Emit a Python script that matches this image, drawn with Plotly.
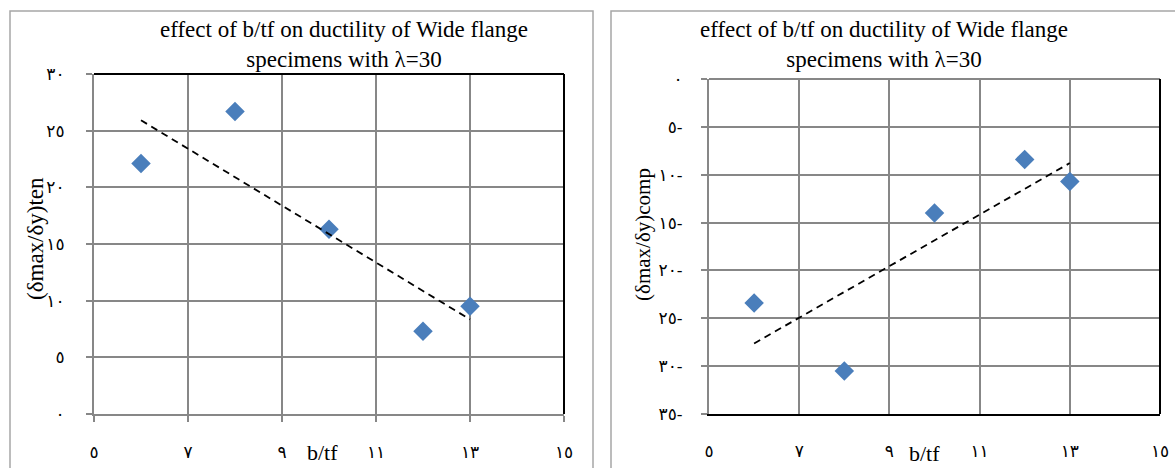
import numpy as np
import plotly.graph_objects as go

# ---- data ----
bt = [6, 8, 10, 12, 13]
ductility_ten = [22.1, 26.7, 16.3, 7.3, 9.5]
ductility_comp = [-23.4, -30.5, -14.0, -8.4, -10.7]

x_tickvals = [5, 7, 9, 11, 13, 15]
x_ticktext = ['٥', '٧', '٩', '١١', '١٣', '١٥']
y1_tickvals = [0, 5, 10, 15, 20, 25, 30]
y1_ticktext = ['٠', '٥', '١٠', '١٥', '٢٠', '٢٥', '٣٠']
y2_tickvals = [0, -5, -10, -15, -20, -25, -30, -35]
y2_ticktext = ['٠', '٥-', '١٠-', '١٥-', '٢٠-', '٢٥-', '٣٠-', '٣٥-']

title_text = "effect of b/tf on ductility of Wide flange<br>specimens with λ=30"

W, H = 1175, 468
def px(x):
    return x / W
def py(y):
    return 1 - y / H

SERIF = "Liberation Serif, Times New Roman, serif"
TICKFONT = dict(family="DejaVu Serif, DejaVu Sans, serif", size=17, color="black")
BLUE = "#4a7ebb"
GRID = "#878787"

def trend(x, y):
    k, b = np.polyfit(x, y, 1)
    xs = [min(x), max(x)]
    return xs, [k * v + b for v in xs]

fig = go.Figure()

fig.add_trace(go.Scatter(x=bt, y=ductility_ten, mode="markers",
                         marker=dict(symbol="diamond", size=15, color=BLUE),
                         xaxis="x", yaxis="y", showlegend=False))
tx, ty = trend(bt, ductility_ten)
fig.add_trace(go.Scatter(x=tx, y=ty, mode="lines",
                         line=dict(color="black", width=1.8, dash="7px,5px"),
                         xaxis="x", yaxis="y", showlegend=False))

fig.add_trace(go.Scatter(x=bt, y=ductility_comp, mode="markers",
                         marker=dict(symbol="diamond", size=15, color=BLUE),
                         xaxis="x2", yaxis="y2", showlegend=False))
tx2, ty2 = trend(bt, ductility_comp)
fig.add_trace(go.Scatter(x=tx2, y=ty2, mode="lines",
                         line=dict(color="black", width=1.8, dash="7px,5px"),
                         xaxis="x2", yaxis="y2", showlegend=False))

common_x = dict(range=[5, 15], tickvals=x_tickvals, ticktext=x_ticktext,
                showgrid=True, gridcolor=GRID, gridwidth=1.6, zeroline=False,
                tickfont=TICKFONT, ticks="outside", ticklen=6, tickwidth=1.5,
                automargin=False)

fig.update_layout(
    template="none",
    width=W, height=H,
    margin=dict(l=0, r=0, t=0, b=0, pad=0, autoexpand=False),
    paper_bgcolor="white", plot_bgcolor="white",
    xaxis=dict(domain=[px(94), px(564)], anchor="y", showline=True,
               linecolor=GRID, linewidth=2.2, tickcolor=GRID,
               ticklabelstandoff=15, **common_x),
    yaxis=dict(domain=[py(414), py(74)], anchor="x", range=[0, 30],
               tickvals=y1_tickvals, ticktext=y1_ticktext,
               showgrid=True, gridcolor=GRID, gridwidth=1.6, zeroline=False,
               showline=True, linecolor=GRID, linewidth=2,
               ticks="outside", ticklen=6, tickwidth=1.5, tickcolor=GRID,
               tickfont=TICKFONT, ticklabelstandoff=18, automargin=False),
    xaxis2=dict(domain=[px(709), px(1160)], anchor="y2", showline=True,
                linecolor="black", linewidth=2, tickcolor="rgba(0,0,0,0)",
                ticklabelstandoff=15, **common_x),
    yaxis2=dict(domain=[py(414), py(79)], anchor="x2", range=[-35, 0],
                tickvals=y2_tickvals, ticktext=y2_ticktext,
                showgrid=True, gridcolor=GRID, gridwidth=1.6, zeroline=False,
                showline=True, linecolor=GRID, linewidth=2,
                ticks="outside", ticklen=6, tickwidth=1.5, tickcolor=GRID,
                tickfont=TICKFONT, ticklabelstandoff=15, automargin=False),
)

shapes = [
    # panel borders
    dict(type="rect", xref="paper", yref="paper", x0=px(10), x1=px(593),
         y0=-0.1, y1=py(11), line=dict(color="#a6a6a6", width=1.5)),
    dict(type="rect", xref="paper", yref="paper", x0=px(611), x1=1.1,
         y0=-0.1, y1=py(11), line=dict(color="#a6a6a6", width=1.5)),
    # left plot area: top and right black
    dict(type="line", xref="x domain", yref="y domain", x0=0, x1=1, y0=1, y1=1,
         line=dict(color="black", width=2)),
    dict(type="line", xref="x domain", yref="y domain", x0=1, x1=1, y0=0, y1=1,
         line=dict(color="black", width=2)),
    # right plot area: top grey, right black
    dict(type="line", xref="x2 domain", yref="y2 domain", x0=0, x1=1, y0=1, y1=1,
         line=dict(color=GRID, width=2)),
    dict(type="line", xref="x2 domain", yref="y2 domain", x0=1, x1=1, y0=0, y1=1,
         line=dict(color="black", width=2)),
]
fig.update_layout(shapes=shapes)

annotations = [
    dict(text=title_text, xref="paper", yref="paper", x=px(344), y=py(44.5),
         showarrow=False, align="center", xanchor="center", yanchor="middle",
         font=dict(family=SERIF, size=23, color="black")),
    dict(text=title_text, xref="paper", yref="paper", x=px(884), y=py(44.5),
         showarrow=False, align="center", xanchor="center", yanchor="middle",
         font=dict(family=SERIF, size=23, color="black")),
    dict(text="(δmax/δy)ten", xref="paper", yref="paper", x=px(36), y=py(239),
         showarrow=False, textangle=-90, xanchor="center", yanchor="middle",
         font=dict(family=SERIF, size=23, color="black")),
    dict(text="(δmax/δy)comp", xref="paper", yref="paper", x=px(643), y=py(235),
         showarrow=False, textangle=-90, xanchor="center", yanchor="middle",
         font=dict(family=SERIF, size=21, color="black")),
    dict(text="b/tf", xref="paper", yref="paper", x=px(323), y=py(452),
         showarrow=False, xanchor="center", yanchor="middle",
         font=dict(family=SERIF, size=22, color="black")),
    dict(text="b/tf", xref="paper", yref="paper", x=px(924), y=py(453),
         showarrow=False, xanchor="center", yanchor="middle",
         font=dict(family=SERIF, size=22, color="black")),
]
fig.update_layout(annotations=annotations)

fig.write_html("out.html")
